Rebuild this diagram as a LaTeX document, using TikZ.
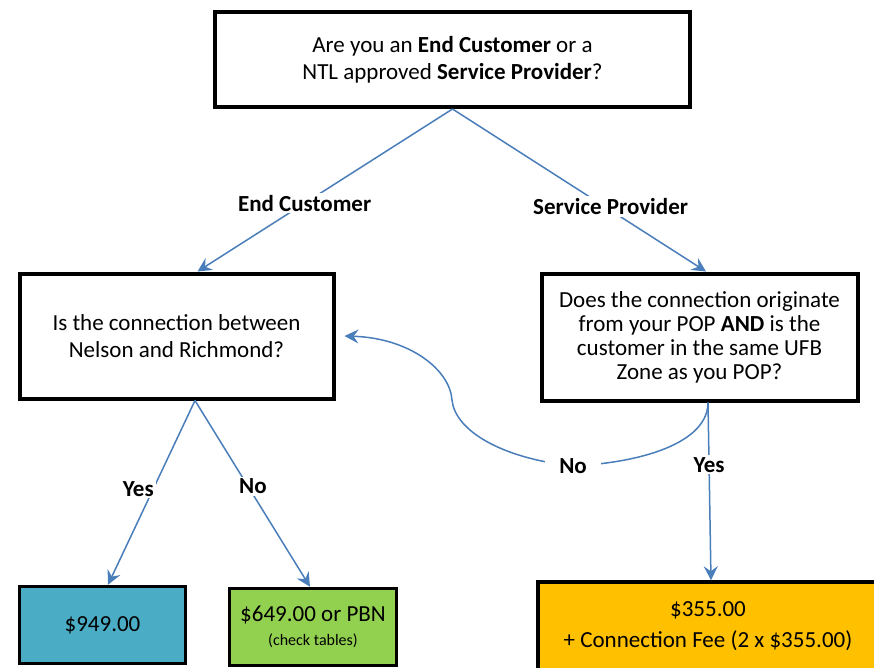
\documentclass[tikz,border=0pt]{standalone}
\usepackage{fontspec}
\setmainfont{Carlito}
\usetikzlibrary{arrows.meta}
\definecolor{linkblue}{HTML}{4A7EBB}
\definecolor{tealfill}{HTML}{4BACC6}
\definecolor{limefill}{HTML}{92D050}
\definecolor{goldfill}{HTML}{FFC000}
\begin{document}
\begin{tikzpicture}
  [x=1pt,y=-1pt,
   every node/.style={font=\fontsize{23}{27}\selectfont,align=center},
   box/.style={draw,line width=4pt},
   price/.style={draw,line width=3.5pt},
   lbl/.style={fill=white,inner sep=2pt,font=\bfseries\fontsize{23}{27}\selectfont},
   conn/.style={draw=linkblue,line width=1.5pt,-{Stealth[length=14pt,width=14pt,inset=5pt]}}]
  \useasboundingbox (0,0) rectangle (874,667);

  \node[box,minimum width=475pt,minimum height=95pt] (ask) at (452.5,59.5)
    {Are you an \textbf{End Customer} or a\\NTL approved \textbf{Service Provider}?};
  \node[box,minimum width=314pt,minimum height=125pt] (lq) at (176.5,336)
    {Is the connection between\\Nelson and Richmond?};
  \node[box,minimum width=316pt,minimum height=127pt,font=\fontsize{23}{24}\selectfont] (rq) at (699.5,337)
    {Does the connection originate\\from your POP \textbf{AND} is the\\customer in the same UFB\\Zone as you POP?};

  \node[price,fill=tealfill,minimum width=166pt,minimum height=77pt] (p949) at (102.5,625) {\$949.00};
  \node[price,fill=limefill,minimum width=167pt,minimum height=77pt] (p649) at (313,627)
    {\$649.00 or PBN\\[-3pt]{\fontsize{16}{18}\selectfont (check tables)}};
  \node[price,fill=goldfill,minimum width=340pt,minimum height=88pt,font=\fontsize{23}{31}\selectfont] (p355) at (708,626)
    {\$355.00\\+ Connection Fee (2 x \$355.00)};

  \draw[conn] (ask.south) -- node[lbl,pos=.58] (lend) {End Customer} ([xshift=21pt]lq.north);
  \draw[conn] (ask.south) -- node[lbl,pos=.6,xshift=6pt] (lsp) {Service Provider} ([xshift=6.5pt]rq.north);
  \draw[conn] ([xshift=18.5pt]lq.south) -- node[lbl,pos=.48,xshift=-15pt] (lyes) {Yes} ([xshift=5.5pt]p949.north);
  \draw[conn] ([xshift=18.5pt]lq.south) -- node[lbl,pos=.46,xshift=5pt] (lno) {No} ([xshift=-3pt]p649.north);
  \draw[conn] ([xshift=8.5pt]rq.south) -- node[lbl,pos=.35] (ryes) {Yes} ([xshift=3pt]p355.north);
  \draw[conn] ([xshift=8.5pt]rq.south) .. controls (708,440) and (650,462) .. (573,466)
    node[lbl,inner xsep=14pt] (rno) {No}
    .. controls (500,458) and (455,430) .. (452,400)
    .. controls (450,370) and (410,338) .. ([xshift=9pt]lq.east);
\end{tikzpicture}
\end{document}
